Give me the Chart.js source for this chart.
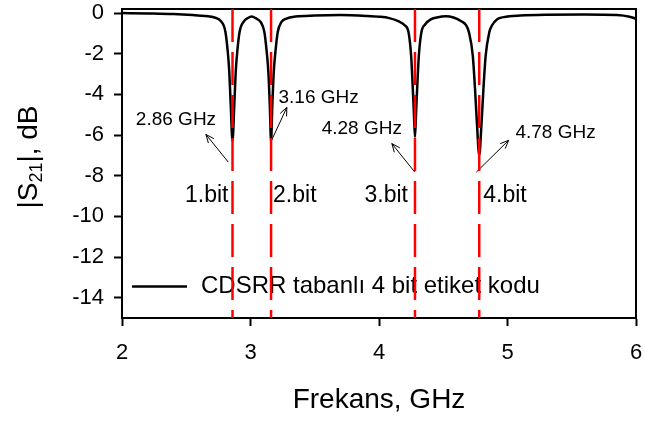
<!DOCTYPE html>
<html>
<head>
<meta charset="utf-8">
<script src="https://cdn.jsdelivr.net/npm/chart.js@4.4.0/dist/chart.umd.min.js"></script>
<style>
  html, body { margin: 0; padding: 0; background: #fff; }
  #wrap { width: 645px; height: 423px; }
</style>
</head>
<body>
<div id="wrap"><canvas id="myChart" width="645" height="423"></canvas></div>
<script>
// measured |S21| of the CDSRR tag (GHz, dB)
var freq = [
  2.00, 2.20, 2.40, 2.55, 2.65, 2.72, 2.77, 2.805, 2.823, 2.835, 2.846, 2.86, 2.874, 2.885, 2.897, 2.915, 2.95, 2.98, 3.01,
  3.04, 3.08, 3.108, 3.126, 3.139, 3.15, 3.16, 3.17, 3.181, 3.194, 3.212, 3.24, 3.28, 3.35, 3.50, 3.70, 3.90, 4.00, 4.08,
  4.15, 4.20, 4.23, 4.25, 4.263, 4.272, 4.28, 4.288, 4.297, 4.31, 4.33, 4.36, 4.40, 4.45, 4.52, 4.58,
  4.64, 4.68, 4.70, 4.73, 4.747, 4.762, 4.78, 4.798, 4.813, 4.83, 4.858, 4.88, 4.92, 4.97, 5.10, 5.30, 5.60, 5.85, 5.95, 6.00
];
var s21 = [
  0.00, -0.02, -0.05, -0.10, -0.15, -0.22, -0.40, -0.93, -1.9, -2.9, -4.5, -6.3, -4.5, -2.9, -1.9, -0.93, -0.40, -0.24, -0.17,
  -0.25, -0.45, -0.93, -1.9, -2.9, -4.5, -6.3, -4.5, -2.9, -1.9, -0.93, -0.45, -0.27, -0.17, -0.12, -0.10, -0.14, -0.18, -0.25,
  -0.40, -0.60, -0.95, -2.1, -3.7, -5.0, -6.1, -5.0, -3.7, -2.1, -0.95, -0.55, -0.32, -0.22, -0.16, -0.22,
  -0.40, -0.62, -0.95, -2.1, -3.7, -5.4, -7.0, -5.4, -3.7, -2.1, -0.95, -0.60, -0.30, -0.20, -0.12, -0.08, -0.07, -0.10, -0.18, -0.28
];
var seriesName = "CDSRR tabanlı 4 bit etiket kodu";

// resonance markers
var bitFreqs = [2.86, 3.16, 4.28, 4.78];
var bitNames = ["1.bit", "2.bit", "3.bit", "4.bit"];
var freqNames = ["2.86 GHz", "3.16 GHz", "4.28 GHz", "4.78 GHz"];

// axes
var xTicks = [2, 3, 4, 5, 6];
var yTicks = [0, -2, -4, -6, -8, -10, -12, -14];
var xRange = [2, 6];
var yRange = [-15, 0.2];

var FONT = "'Liberation Sans', Arial, sans-serif";
Chart.defaults.font.family = FONT;
Chart.defaults.color = '#000';

// callouts: arrow tail, arrow head, text centre (data units)
var callouts = [
  { tail: [2.827, -7.33], head: [2.653, -5.97], text: [2.42, -5.23] },
  { tail: [3.164, -6.26], head: [3.283, -4.64], text: [3.53, -4.15] },
  { tail: [4.278, -7.82], head: [4.10, -6.42], text: [3.866, -5.67] },
  { tail: [4.758, -7.82], head: [5.009, -6.26], text: [5.374, -5.9] }
];

var points = freq.map(function (f, i) { return { x: f, y: s21[i] }; });

var datasets = bitFreqs.map(function (f) {
  return {
    label: '',
    data: [{ x: f, y: yRange[1] }, { x: f, y: yRange[0] }],
    borderColor: '#ff0000',
    borderWidth: 2.5,
    borderDash: [33, 10],
    pointRadius: 0,
    order: 0
  };
});
datasets.push({
  label: seriesName,
  data: points,
  borderColor: '#000',
  borderWidth: 2.5,
  pointRadius: 0,
  cubicInterpolationMode: 'monotone',
  order: 1
});

function arrow(ctx, x1, y1, x2, y2) {
  var a = Math.atan2(y2 - y1, x2 - x1);
  var h = 9;
  ctx.beginPath();
  ctx.moveTo(x1, y1);
  ctx.lineTo(x2, y2);
  ctx.moveTo(x2 - h * Math.cos(a - 0.4), y2 - h * Math.sin(a - 0.4));
  ctx.lineTo(x2, y2);
  ctx.lineTo(x2 - h * Math.cos(a + 0.4), y2 - h * Math.sin(a + 0.4));
  ctx.stroke();
}

var decor = {
  id: 'decor',
  beforeDatasetsDraw: function (chart) {
    var ctx = chart.ctx, a = chart.chartArea;
    var xs = chart.scales.x, ys = chart.scales.y;
    ctx.save();
    // frame
    ctx.strokeStyle = '#000';
    ctx.lineWidth = 2;
    ctx.strokeRect(a.left, a.top, a.right - a.left, a.bottom - a.top);

    // legend inside the plot
    var ly = ys.getPixelForValue(-13.45);
    ctx.lineWidth = 2.5;
    ctx.beginPath();
    ctx.moveTo(a.left + 10, ly);
    ctx.lineTo(a.left + 65, ly);
    ctx.stroke();
    ctx.font = '24px ' + FONT;
    ctx.fillStyle = '#000';
    ctx.textBaseline = 'middle';
    ctx.textAlign = 'left';
    ctx.fillText(chart.data.datasets[4].label, a.left + 79, ly);

    // bit names beside the marker lines
    ctx.font = '23px ' + FONT;
    bitNames.forEach(function (t, i) {
      var x = xs.getPixelForValue(bitFreqs[i]);
      var y = ys.getPixelForValue(-9);
      if (i % 2 === 0) {
        ctx.textAlign = 'right';
        ctx.fillText(t, x - (i === 2 ? 7 : 4), y);
      } else {
        ctx.textAlign = 'left';
        ctx.fillText(t, x + (i === 1 ? 2 : 4), y);
      }
    });

    // frequency callouts
    ctx.font = '19px ' + FONT;
    ctx.textAlign = 'center';
    ctx.lineWidth = 1;
    callouts.forEach(function (c, i) {
      ctx.fillText(freqNames[i], xs.getPixelForValue(c.text[0]), ys.getPixelForValue(c.text[1]));
      arrow(ctx,
        xs.getPixelForValue(c.tail[0]), ys.getPixelForValue(c.tail[1]),
        xs.getPixelForValue(c.head[0]), ys.getPixelForValue(c.head[1]));
    });
    ctx.restore();
  },
  afterDraw: function (chart) {
    // y title with subscript: |S21|, dB
    var ctx = chart.ctx;
    var cy = 157, bx = 37;
    var big = '28px ' + FONT, small = '18px ' + FONT;
    ctx.save();
    ctx.fillStyle = '#000';
    ctx.textBaseline = 'alphabetic';
    ctx.textAlign = 'left';
    ctx.font = big;
    var w1 = ctx.measureText('|S').width;
    var w3 = ctx.measureText('|, dB').width;
    ctx.font = small;
    var w2 = ctx.measureText('21').width;
    var total = w1 + w2 + w3;
    ctx.translate(bx, cy);
    ctx.rotate(-Math.PI / 2);
    var x0 = -total / 2;
    ctx.font = big;
    ctx.fillText('|S', x0, 0);
    ctx.font = small;
    ctx.fillText('21', x0 + w1, 5);
    ctx.font = big;
    ctx.fillText('|, dB', x0 + w1 + w2, 0);
    ctx.restore();
  }
};

var ctx = document.getElementById('myChart').getContext('2d');
var chart = new Chart(ctx, {
  type: 'line',
  data: { datasets: datasets },
  plugins: [decor],
  options: {
    responsive: false,
    devicePixelRatio: 1,
    animation: false,
    layout: { padding: { top: 9, right: 9, left: 0, bottom: 0 } },
    plugins: { legend: { display: false }, tooltip: { enabled: false } },
    scales: {
      x: {
        type: 'linear',
        min: xRange[0],
        max: xRange[1],
        afterBuildTicks: function (s) { s.ticks = xTicks.map(function (v) { return { value: v }; }); },
        afterFit: function (s) { s.height = 105; s.paddingLeft = 0; s.paddingRight = 0; },
        ticks: { font: { size: 22 }, color: '#000', padding: 14, maxRotation: 0 },
        grid: { drawOnChartArea: false, tickLength: 8, tickWidth: 2, color: '#000' },
        border: { color: '#000', width: 2 },
        title: { display: true, text: 'Frekans, GHz', font: { size: 28 }, color: '#000', padding: { top: 0, bottom: 6 } }
      },
      y: {
        type: 'linear',
        min: yRange[0],
        max: yRange[1],
        afterBuildTicks: function (s) { s.ticks = yTicks.map(function (v) { return { value: v }; }); },
        afterFit: function (s) { s.width = 122; s.paddingTop = 0; s.paddingBottom = 0; },
        ticks: { font: { size: 22 }, color: '#000', padding: 10 },
        grid: { drawOnChartArea: false, tickLength: 8, tickWidth: 2, color: '#000' },
        border: { color: '#000', width: 2 }
      }
    }
  }
});
</script>
</body>
</html>
